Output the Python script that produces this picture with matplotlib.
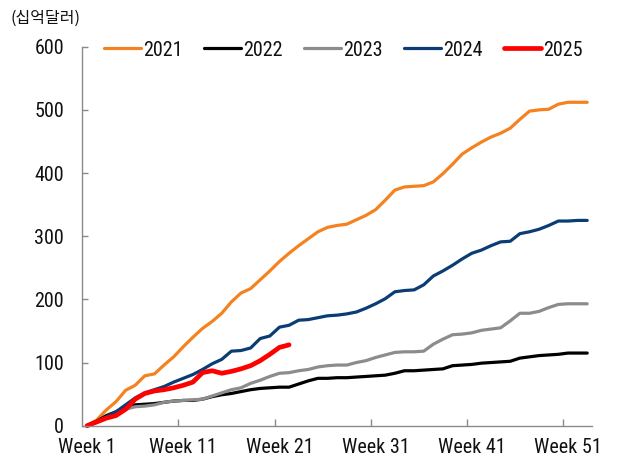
import matplotlib
matplotlib.use("Agg")
import matplotlib.pyplot as plt
from matplotlib import font_manager

# Weekly cumulative values (USD bn), weeks 1..53
weeks = list(range(1, 54))

y2021 = [0, 9, 25, 38, 56, 64, 79, 82, 96, 109, 125, 140, 154, 165, 178, 196,
         210, 217, 231, 245, 260, 273, 285, 296, 307, 314, 317, 319, 326, 333,
         342, 357, 373, 378, 379, 380, 386, 399, 414, 430, 440, 449, 457, 463,
         471, 485, 498, 500, 501, 509, 512, 512, 512]

y2022 = [0, 7, 16, 22, 29, 33, 34, 35, 37, 39, 40, 40, 42, 46, 49, 51, 54,
         57, 59, 60, 61, 61, 66, 71, 75, 75, 76, 76, 77, 78, 79, 80, 83, 87,
         87, 88, 89, 90, 95, 96, 97, 99, 100, 101, 102, 107, 109, 111, 112,
         113, 115, 115, 115]

y2023 = [0, 5, 13, 20, 26, 30, 31, 33, 37, 39, 40, 41, 42, 47, 52, 57, 60,
         67, 72, 78, 83, 84, 87, 89, 93, 95, 96, 96, 100, 103, 108, 112, 116,
         117, 117, 118, 129, 137, 144, 145, 147, 151, 153, 155, 166, 178, 178,
         181, 187, 192, 193, 193, 193]

y2024 = [0, 7, 14, 22, 33, 44, 52, 57, 62, 69, 75, 81, 89, 98, 105, 118, 119,
         123, 138, 142, 156, 159, 167, 168, 171, 174, 175, 177, 180, 186, 193,
         201, 212, 214, 215, 223, 237, 245, 254, 264, 273, 278, 285, 291, 292,
         304, 307, 311, 317, 324, 324, 325, 325]

y2025 = [0, 6, 12, 16, 26, 42, 51, 55, 57, 60, 64, 69, 84, 87, 83, 86, 90, 95,
         103, 113, 124, 128]

series_labels = ["2021", "2022", "2023", "2024", "2025"]
series_colors = ["#F58220", "#000000", "#8C8C8C", "#0B3C75", "#FF0000"]
series_widths = [2.3, 2.3, 2.3, 2.3, 3.4]

tick_weeks = [1, 11, 21, 31, 41, 51]
tick_labels = [f"Week {w}" for w in tick_weeks]
y_ticks = [0, 100, 200, 300, 400, 500, 600]
unit_label = "(십억달러)"


def pick_narrow_font():
    """Return (family, stretch) of an installed narrow sans face, or None."""
    narrow_stretch = {"condensed", "semi-condensed", "extra-condensed",
                      "ultra-condensed", 500, 600, 700, 800}
    found = []
    for f in font_manager.fontManager.ttflist:
        if f.style != "normal":
            continue
        if f.weight not in (400, "normal", "regular", "book"):
            continue
        narrow = ("Narrow" in f.name or "Condensed" in f.name
                  or f.stretch in narrow_stretch)
        if narrow:
            found.append(f)
    order = ["Liberation Sans Narrow", "Arial Narrow", "Roboto Condensed",
             "Noto Sans", "Open Sans Condensed", "Open Sans"]
    for name in order:
        for f in found:
            if f.name == name:
                return f.name, f.stretch
    if found:
        return found[0].name, found[0].stretch
    return None


choice = pick_narrow_font()
if choice:
    plt.rcParams["font.family"] = [choice[0], "DejaVu Sans"]
    plt.rcParams["font.stretch"] = choice[1]
    fs = 14.5
else:
    plt.rcParams["font.family"] = ["Liberation Sans", "DejaVu Sans"]
    fs = 12.5

W, H = 622, 459
fig = plt.figure(figsize=(W / 100, H / 100), dpi=100)
ax = fig.add_axes([82.3 / W, 1 - 425.7 / H, (592 - 82.3) / W, (425.7 - 46.7) / H])

all_series = [y2021, y2022, y2023, y2024, y2025]
for vals, lab, col, lw in zip(all_series, series_labels, series_colors, series_widths):
    ax.plot(weeks[:len(vals)], vals, color=col, lw=lw, label=lab,
            solid_capstyle="round", solid_joinstyle="round", clip_on=False)

ax.set_xlim(0.5, 53.5)
ax.set_ylim(0, 600)

spine_col = "#8A8A8A"
for s in ["top", "right"]:
    ax.spines[s].set_visible(False)
for s in ["left", "bottom"]:
    ax.spines[s].set_color(spine_col)
    ax.spines[s].set_linewidth(1.0)

ax.set_yticks(y_ticks)
ax.set_yticklabels([str(v) for v in y_ticks])
ax.tick_params(axis="y", direction="in", length=4, width=1, color=spine_col,
               labelsize=fs, labelcolor="#111111", pad=13)

ax.set_xticks(tick_weeks)
ax.set_xticklabels(tick_labels)
ax.set_xticks([10.5, 20.5, 30.5, 40.5, 50.5], minor=True)
ax.tick_params(axis="x", which="major", length=0, labelsize=fs,
               labelcolor="#111111", pad=9)
ax.tick_params(axis="x", which="minor", direction="in", length=5, width=1,
               color=spine_col)

handle_px = 37.0
px_per_em = fs * 100 / 72
leg = ax.legend(loc="center left", bbox_to_anchor=(104 / W, 1 - 50 / H),
                bbox_transform=fig.transFigure, ncol=5, frameon=False,
                fontsize=fs, handlelength=handle_px / px_per_em,
                handletextpad=0.12, columnspacing=21.0 / px_per_em,
                borderpad=0, borderaxespad=0)
for t in leg.get_texts():
    t.set_color("#111111")

fig.text(10 / W, 1 - 18 / H, unit_label, fontsize=11.5, color="#111111",
         family=["Noto Sans CJK KR", "DejaVu Sans"], ha="left", va="center")

fig.savefig("out.png", dpi=100)
